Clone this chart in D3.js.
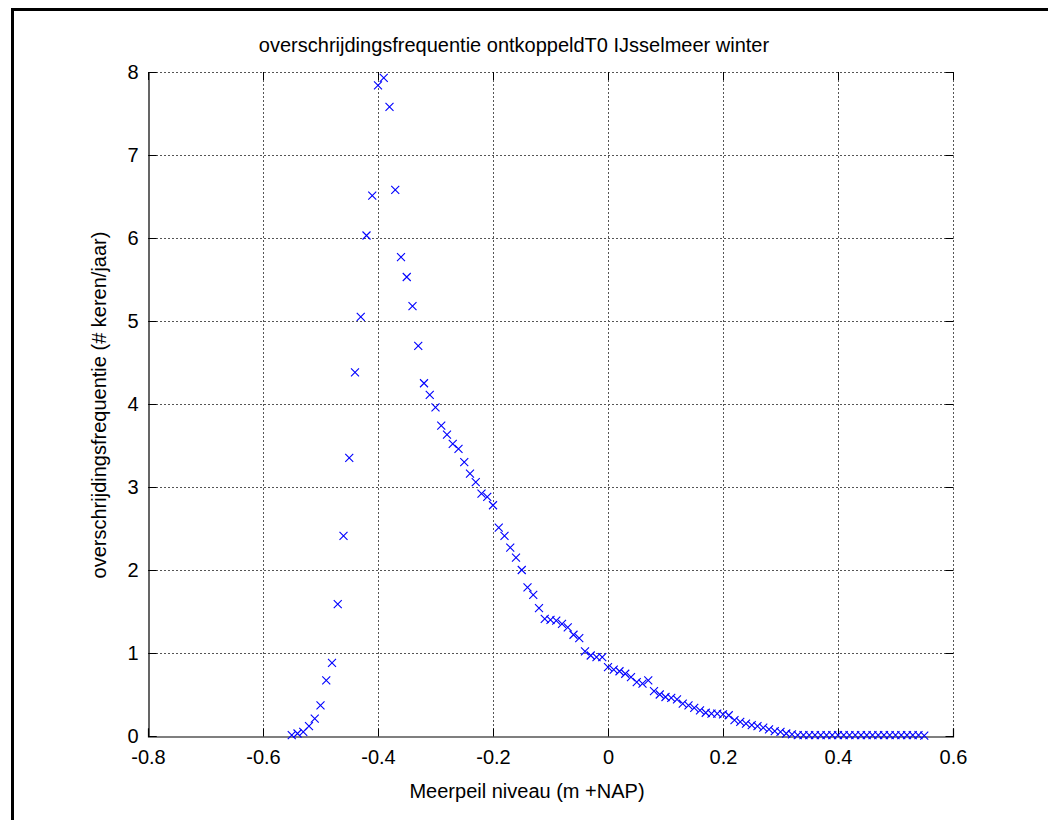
<!DOCTYPE html>
<html>
<head>
<meta charset="utf-8">
<script src="https://cdn.jsdelivr.net/npm/d3@7"></script>
<style>
  html, body { margin: 0; padding: 0; background: #fff; }
  svg { display: block; }
  text { font-family: "Liberation Sans", Arial, sans-serif; fill: #000; }
</style>
</head>
<body>
<svg id="chart" width="1048" height="820"></svg>
<script>
// Lake level (m +NAP) and exceedance frequency (times per year)
const levels = [
  -0.55, -0.54, -0.53, -0.52, -0.51, -0.50, -0.49, -0.48, -0.47, -0.46,
  -0.45, -0.44, -0.43, -0.42, -0.41, -0.40, -0.39, -0.38, -0.37, -0.36,
  -0.35, -0.34, -0.33, -0.32, -0.31, -0.30, -0.29, -0.28, -0.27, -0.26,
  -0.25, -0.24, -0.23, -0.22, -0.21, -0.20, -0.19, -0.18, -0.17, -0.16,
  -0.15, -0.14, -0.13, -0.12, -0.11, -0.10, -0.09, -0.08, -0.07, -0.06,
  -0.05, -0.04, -0.03, -0.02, -0.01, 0.00, 0.01, 0.02, 0.03, 0.04,
  0.05, 0.06, 0.07, 0.08, 0.09, 0.10, 0.11, 0.12, 0.13, 0.14,
  0.15, 0.16, 0.17, 0.18, 0.19, 0.20, 0.21, 0.22, 0.23, 0.24,
  0.25, 0.26, 0.27, 0.28, 0.29, 0.30, 0.31, 0.32, 0.33, 0.34,
  0.35, 0.36, 0.37, 0.38, 0.39, 0.40, 0.41, 0.42, 0.43, 0.44,
  0.45, 0.46, 0.47, 0.48, 0.49, 0.50, 0.51, 0.52, 0.53, 0.54, 0.55
];
const frequency = [
  0.01, 0.03, 0.05, 0.12, 0.21, 0.37, 0.67, 0.88, 1.59, 2.41,
  3.35, 4.38, 5.05, 6.03, 6.51, 7.84, 7.93, 7.58, 6.58, 5.77,
  5.53, 5.18, 4.70, 4.25, 4.11, 3.96, 3.74, 3.63, 3.52, 3.46,
  3.30, 3.16, 3.06, 2.92, 2.88, 2.78, 2.51, 2.41, 2.27, 2.15,
  2.00, 1.79, 1.70, 1.54, 1.41, 1.40, 1.39, 1.35, 1.31, 1.22,
  1.18, 1.02, 0.97, 0.95, 0.95, 0.83, 0.80, 0.78, 0.75, 0.71,
  0.65, 0.63, 0.67, 0.54, 0.50, 0.47, 0.46, 0.44, 0.39, 0.37,
  0.34, 0.31, 0.28, 0.27, 0.27, 0.26, 0.25, 0.19, 0.17, 0.15,
  0.13, 0.12, 0.10, 0.08, 0.06, 0.05, 0.03, 0.02, 0.01, 0.01,
  0.01, 0.01, 0.01, 0.01, 0.01, 0.01, 0.01, 0.01, 0.01, 0.01,
  0.01, 0.01, 0.01, 0.01, 0.01, 0.01, 0.01, 0.01, 0.01, 0.01, 0.005
];
const xTicks = [-0.8, -0.6, -0.4, -0.2, 0, 0.2, 0.4, 0.6];
const yTicks = [0, 1, 2, 3, 4, 5, 6, 7, 8];

const titleText = "overschrijdingsfrequentie ontkoppeldT0 IJsselmeer winter";
const xLabelText = "Meerpeil niveau (m +NAP)";
const yLabelText = "overschrijdingsfrequentie (# keren/jaar)";

const svg = d3.select("#chart");
const plot = { left: 148, right: 953, top: 72, bottom: 736 };

const x = d3.scaleLinear().domain([-0.8, 0.6]).range([plot.left, plot.right]);
const y = d3.scaleLinear().domain([0, 8]).range([plot.bottom, plot.top]);

// figure frame (top and left edges)
svg.append("line").attr("x1", 11).attr("x2", 1048).attr("y1", 9.5).attr("y2", 9.5)
  .attr("stroke", "#000").attr("stroke-width", 3);
svg.append("line").attr("x1", 12.5).attr("x2", 12.5).attr("y1", 8).attr("y2", 820)
  .attr("stroke", "#000").attr("stroke-width", 3);

// dotted grid
const grid = svg.append("g").attr("stroke", "#555").attr("stroke-width", 1)
  .attr("stroke-dasharray", "2,2");
grid.selectAll("line.gx").data(xTicks.slice(1)).join("line")
  .attr("x1", d => Math.round(x(d)) + 0.5).attr("x2", d => Math.round(x(d)) + 0.5)
  .attr("y1", plot.top).attr("y2", plot.bottom);
grid.selectAll("line.gy").data(yTicks.slice(1)).join("line")
  .attr("y1", d => Math.round(y(d)) + 0.5).attr("y2", d => Math.round(y(d)) + 0.5)
  .attr("x1", plot.left).attr("x2", plot.right);

// axes with inward ticks; labels use a plain hyphen for negatives
const fmtX = d => d === 0 ? "0" : d.toFixed(1);
const xAxis = d3.axisBottom(x).tickValues(xTicks).tickSize(-8).tickPadding(13)
  .tickFormat(fmtX);
const gx = svg.append("g").attr("transform", `translate(0,${plot.bottom + 0.5})`).call(xAxis);
const yAxis = d3.axisLeft(y).tickValues(yTicks).tickSize(-8).tickPadding(10)
  .tickFormat(d => String(d));
const gy = svg.append("g").attr("transform", `translate(${plot.left + 0.5},0)`).call(yAxis);
[gx, gy].forEach(g => {
  g.select(".domain").attr("stroke", "#000").attr("stroke-width", 1.2);
  g.selectAll(".tick line").attr("stroke", "#000");
  g.selectAll(".tick text").attr("font-size", 20).attr("font-family", "Liberation Sans, Arial, sans-serif").attr("fill", "#000");
});
// tick marks along the dotted top and right borders
svg.append("g").selectAll("line").data(yTicks).join("line")
  .attr("x1", plot.right - 7.5).attr("x2", plot.right + 0.5)
  .attr("y1", d => Math.round(y(d)) + 0.5).attr("y2", d => Math.round(y(d)) + 0.5)
  .attr("stroke", "#000");
svg.append("g").selectAll("line").data(xTicks).join("line")
  .attr("x1", d => Math.round(x(d)) + 0.5).attr("x2", d => Math.round(x(d)) + 0.5)
  .attr("y1", plot.top).attr("y2", plot.top + 8)
  .attr("stroke", "#000");

// cross markers
const s = 4;
svg.append("g").attr("stroke", "#0000ff").attr("stroke-width", 1.1).attr("fill", "none")
  .selectAll("path").data(levels.map((v, i) => [v, frequency[i]])).join("path")
  .attr("d", d => {
    const cx = x(d[0]), cy = y(d[1]);
    return `M${cx - s},${cy - s}L${cx + s},${cy + s}M${cx - s},${cy + s}L${cx + s},${cy - s}`;
  });

// titles
svg.append("text").attr("x", 514).attr("y", 52).attr("text-anchor", "middle")
  .attr("font-size", 20).text(titleText);
svg.append("text").attr("x", 527).attr("y", 798).attr("text-anchor", "middle")
  .attr("font-size", 20).text(xLabelText);
svg.append("text").attr("transform", "translate(106,405) rotate(-90)").attr("text-anchor", "middle")
  .attr("font-size", 20).text(yLabelText);
</script>
</body>
</html>
